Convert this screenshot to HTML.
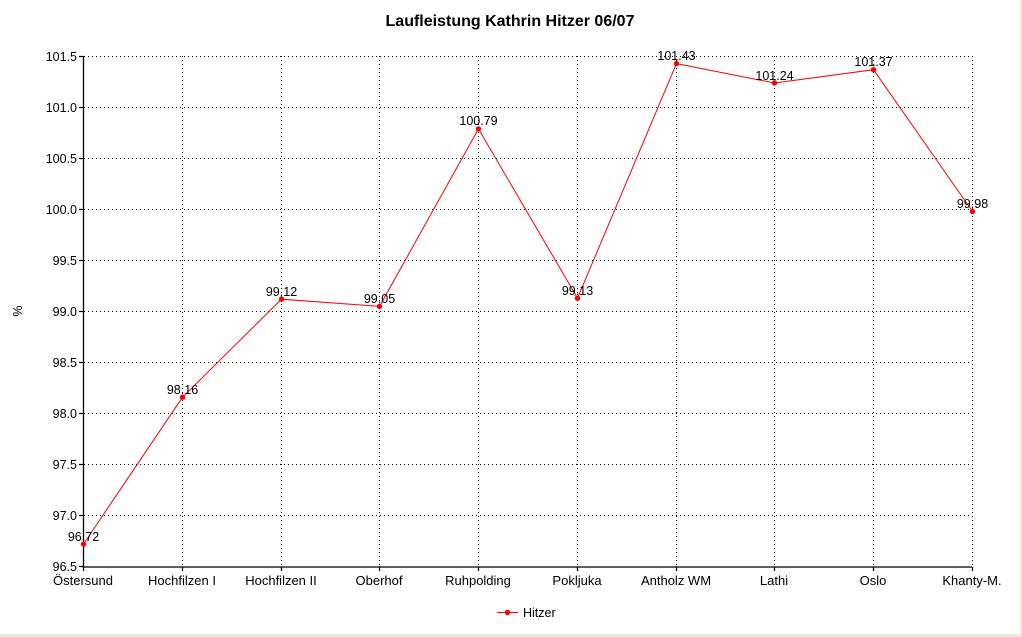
<!DOCTYPE html>
<html><head><meta charset="utf-8"><style>
body{margin:0;background:#fff;}
svg{display:block;font-family:"Liberation Sans",Arial,sans-serif;}
</style></head><body>
<svg width="1022" height="637" viewBox="0 0 1022 637" xmlns="http://www.w3.org/2000/svg">
<rect x="0" y="0" width="1022" height="637" fill="#fff"/>
<rect x="1020" y="0" width="2" height="637" fill="#ecebdf"/>
<rect x="0" y="634" width="1022" height="3" fill="#ecebdf"/>
<text x="510" y="26" text-anchor="middle" font-size="16" font-weight="bold">Laufleistung Kathrin Hitzer 06/07</text>
<g stroke="#000" stroke-width="1" stroke-dasharray="1,3" fill="none">
<path d="M84 56.5H972M84 107.5H972M84 158.5H972M84 209.5H972M84 260.5H972M84 311.5H972M84 362.5H972M84 413.5H972M84 464.5H972M84 515.5H972"/>
<path d="M182.5 56V566M281.5 56V566M379.5 56V566M478.5 56V566M577.5 56V566M676.5 56V566M774.5 56V566M873.5 56V566M972.5 56V566"/>
</g>
<g stroke="#000" stroke-width="1.3" fill="none">
<path d="M83.5 56V567H972"/>
<path d="M79 56.5H84M79 107.5H84M79 158.5H84M79 209.5H84M79 260.5H84M79 311.5H84M79 362.5H84M79 413.5H84M79 464.5H84M79 515.5H84M79 566.5H84"/>
<path d="M83.5 567V571M182.5 567V571M281.5 567V571M379.5 567V571M478.5 567V571M577.5 567V571M676.5 567V571M774.5 567V571M873.5 567V571M972.5 567V571"/>
</g>
<g font-size="12.5" text-anchor="end">
<text x="77" y="61">101.5</text><text x="77" y="112">101.0</text><text x="77" y="163">100.5</text><text x="77" y="214">100.0</text><text x="77" y="265">99.5</text><text x="77" y="316">99.0</text><text x="77" y="367">98.5</text><text x="77" y="418">98.0</text><text x="77" y="469">97.5</text><text x="77" y="520">97.0</text><text x="77" y="571">96.5</text>
</g>
<g font-size="13" text-anchor="middle">
<text x="83" y="585">Östersund</text><text x="182" y="585">Hochfilzen I</text><text x="281" y="585">Hochfilzen II</text><text x="379" y="585">Oberhof</text><text x="478" y="585">Ruhpolding</text><text x="577" y="585">Pokljuka</text><text x="676" y="585">Antholz WM</text><text x="774" y="585">Lathi</text><text x="873" y="585">Oslo</text><text x="972" y="585">Khanty-M.</text>
</g>
<text x="22" y="311" font-size="12.5" text-anchor="middle" transform="rotate(-90 22 311)">%</text>
<polyline fill="none" stroke="#f00" stroke-width="1" points="83.5,544.1 182.5,397.2 281.5,299.2 379.5,306.4 478.5,128.9 577.5,298.2 676.5,63.6 774.5,83.0 873.5,69.7 972.5,211.5"/>
<g fill="#f00">
<circle cx="83.5" cy="544.1" r="2.7"/><circle cx="182.5" cy="397.2" r="2.7"/><circle cx="281.5" cy="299.2" r="2.7"/><circle cx="379.5" cy="306.4" r="2.7"/><circle cx="478.5" cy="128.9" r="2.7"/><circle cx="577.5" cy="298.2" r="2.7"/><circle cx="676.5" cy="63.6" r="2.7"/><circle cx="774.5" cy="83.0" r="2.7"/><circle cx="873.5" cy="69.7" r="2.7"/><circle cx="972.5" cy="211.5" r="2.7"/>
</g>
<g font-size="12.5" text-anchor="middle">
<text x="83.5" y="541">96.72</text><text x="182.5" y="394">98.16</text><text x="281.5" y="296">99.12</text><text x="379.5" y="303">99.05</text><text x="478.5" y="125">100.79</text><text x="577.5" y="295">99.13</text><text x="676.5" y="60">101.43</text><text x="774.5" y="80">101.24</text><text x="873.5" y="66">101.37</text><text x="972.5" y="208">99.98</text>
</g>
<line x1="497" y1="612.5" x2="518" y2="612.5" stroke="#f00" stroke-width="1"/>
<circle cx="507.5" cy="612.5" r="2.7" fill="#f00"/>
<text x="523" y="617" font-size="12.5">Hitzer</text>
</svg>
</body></html>
